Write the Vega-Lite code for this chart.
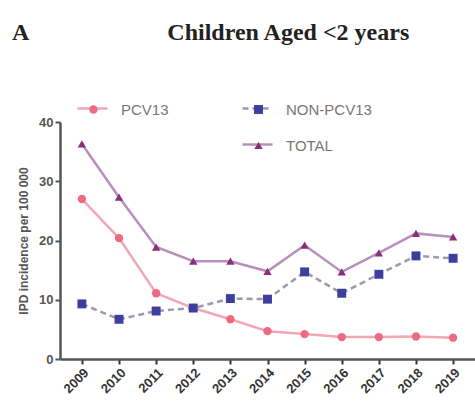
{
  "$schema": "https://vega.github.io/schema/vega-lite/v6.json",
  "width": 415,
  "height": 237,
  "autosize": "none",
  "padding": {"left": 60, "top": 122, "right": 0, "bottom": 44},
  "background": "white",
  "title": {
    "text": "A\u00a0\u00a0\u00a0\u00a0\u00a0\u00a0\u00a0\u00a0\u00a0\u00a0\u00a0\u00a0\u00a0\u00a0\u00a0\u00a0\u00a0\u00a0\u00a0\u00a0\u00a0\u00a0\u00a0Children Aged <2 years",
    "anchor": "start",
    "frame": "group",
    "dx": -48,
    "offset": 47,
    "font": "Liberation Serif",
    "fontSize": 24,
    "fontWeight": "bold",
    "color": "#222"
  },
  "data": {
    "values": [
      {"year": "2009", "series": "PCV13", "value": 27.0},
      {"year": "2010", "series": "PCV13", "value": 20.4},
      {"year": "2011", "series": "PCV13", "value": 11.1},
      {"year": "2012", "series": "PCV13", "value": 8.6},
      {"year": "2013", "series": "PCV13", "value": 6.7},
      {"year": "2014", "series": "PCV13", "value": 4.7},
      {"year": "2015", "series": "PCV13", "value": 4.2},
      {"year": "2016", "series": "PCV13", "value": 3.7},
      {"year": "2017", "series": "PCV13", "value": 3.7},
      {"year": "2018", "series": "PCV13", "value": 3.8},
      {"year": "2019", "series": "PCV13", "value": 3.6},
      {"year": "2009", "series": "NON-PCV13", "value": 9.3},
      {"year": "2010", "series": "NON-PCV13", "value": 6.7},
      {"year": "2011", "series": "NON-PCV13", "value": 8.1},
      {"year": "2012", "series": "NON-PCV13", "value": 8.6},
      {"year": "2013", "series": "NON-PCV13", "value": 10.2},
      {"year": "2014", "series": "NON-PCV13", "value": 10.1},
      {"year": "2015", "series": "NON-PCV13", "value": 14.7},
      {"year": "2016", "series": "NON-PCV13", "value": 11.1},
      {"year": "2017", "series": "NON-PCV13", "value": 14.3},
      {"year": "2018", "series": "NON-PCV13", "value": 17.4},
      {"year": "2019", "series": "NON-PCV13", "value": 17.0},
      {"year": "2009", "series": "TOTAL", "value": 36.3},
      {"year": "2010", "series": "TOTAL", "value": 27.3},
      {"year": "2011", "series": "TOTAL", "value": 18.9},
      {"year": "2012", "series": "TOTAL", "value": 16.5},
      {"year": "2013", "series": "TOTAL", "value": 16.5},
      {"year": "2014", "series": "TOTAL", "value": 14.8},
      {"year": "2015", "series": "TOTAL", "value": 19.2},
      {"year": "2016", "series": "TOTAL", "value": 14.7},
      {"year": "2017", "series": "TOTAL", "value": 17.9},
      {"year": "2018", "series": "TOTAL", "value": 21.2},
      {"year": "2019", "series": "TOTAL", "value": 20.6}
    ]
  },
  "encoding": {
    "x": {
      "field": "year",
      "type": "ordinal",
      "scale": {"type": "point", "padding": 0.59},
      "axis": {
        "title": null,
        "labelAngle": -45,
        "labelFont": "Liberation Sans",
        "labelFontSize": 13,
        "labelFontWeight": "bold",
        "labelColor": "#333",
        "tickColor": "#333",
        "tickSize": 5,
        "tickWidth": 2,
        "domainColor": "#555",
        "domainWidth": 2.5,
        "labelPadding": 2
      }
    },
    "y": {
      "field": "value",
      "type": "quantitative",
      "scale": {"domain": [0, 40], "nice": false},
      "axis": {
        "title": "IPD incidence per 100 000",
        "values": [0, 10, 20, 30, 40],
        "grid": false,
        "labelFont": "Liberation Sans",
        "labelFontSize": 13,
        "labelFontWeight": "bold",
        "labelColor": "#555",
        "tickColor": "#555",
        "tickSize": 5,
        "tickWidth": 2,
        "domainColor": "#555",
        "domainWidth": 2.5,
        "titleFont": "Liberation Sans",
        "titleFontSize": 12,
        "titleFontWeight": "bold",
        "titleColor": "#555",
        "titlePadding": 8
      }
    }
  },
  "layer": [
    {
      "data": {"values": [{"year": "2010"}, {"year": "2016"}]},
      "mark": {"type": "rule", "color": "#999", "strokeWidth": 1.5},
      "encoding": {
        "x": {"field": "year", "type": "ordinal"},
        "y": {"datum": 35},
        "y2": {"datum": 0}
      }
    },
    {
      "transform": [{"filter": "datum.series === 'PCV13'"}],
      "mark": {"type": "line", "strokeWidth": 2.5},
      "encoding": {
        "color": {
          "field": "series", "type": "nominal",
          "scale": {"range": ["#f2a8b4"]},
          "legend": {"orient": "none", "legendX": 16, "legendY": -30, "title": null, "symbolType": "stroke", "symbolSize": 900, "symbolStrokeWidth": 2.5, "labelExpr": "''", "labelFontSize": 15, "padding": 0}
        }
      }
    },
    {
      "transform": [{"filter": "datum.series === 'NON-PCV13'"}],
      "mark": {"type": "line", "strokeWidth": 2.5, "strokeDash": [6, 4]},
      "encoding": {
        "color": {
          "field": "series", "type": "nominal",
          "scale": {"range": ["#9a9ab0"]},
          "legend": {"orient": "none", "legendX": 181, "legendY": -30, "title": null, "symbolType": "stroke", "symbolSize": 900, "symbolStrokeWidth": 2.5, "symbolDash": [6, 4], "labelExpr": "''", "labelFontSize": 15, "padding": 0}
        }
      }
    },
    {
      "transform": [{"filter": "datum.series === 'TOTAL'"}],
      "mark": {"type": "line", "strokeWidth": 2.5},
      "encoding": {
        "color": {
          "field": "series", "type": "nominal",
          "scale": {"range": ["#b890bc"]},
          "legend": {"orient": "none", "legendX": 181, "legendY": 6, "title": null, "symbolType": "stroke", "symbolSize": 900, "symbolStrokeWidth": 2.5, "labelExpr": "''", "labelFontSize": 15, "padding": 0}
        }
      }
    },
    {
      "transform": [{"filter": "datum.series === 'PCV13'"}],
      "mark": {"type": "point", "filled": true, "shape": "circle", "size": 70, "opacity": 1},
      "encoding": {
        "shape": {
          "field": "series", "type": "nominal",
          "scale": {"range": ["circle"]},
          "legend": {"orient": "none", "legendX": 26, "legendY": -20, "title": null, "symbolSize": 70, "symbolFillColor": "#ee6a80", "symbolStrokeWidth": 0, "labelFont": "Liberation Sans", "labelFontSize": 15, "labelColor": "#777", "labelOffset": 20, "padding": 0}
        },
        "color": {"value": "#ee6a80"}
      }
    },
    {
      "transform": [{"filter": "datum.series === 'NON-PCV13'"}],
      "mark": {"type": "point", "filled": true, "shape": "square", "size": 80, "opacity": 1},
      "encoding": {
        "shape": {
          "field": "series", "type": "nominal",
          "scale": {"range": ["square"]},
          "legend": {"orient": "none", "legendX": 191, "legendY": -20, "title": null, "symbolSize": 80, "symbolFillColor": "#3e3e9e", "symbolStrokeWidth": 0, "labelFont": "Liberation Sans", "labelFontSize": 15, "labelColor": "#777", "labelOffset": 20, "padding": 0}
        },
        "color": {"value": "#3e3e9e"}
      }
    },
    {
      "transform": [{"filter": "datum.series === 'TOTAL'"}],
      "mark": {"type": "point", "filled": true, "shape": "triangle-up", "size": 70, "opacity": 1},
      "encoding": {
        "shape": {
          "field": "series", "type": "nominal",
          "scale": {"range": ["triangle-up"]},
          "legend": {"orient": "none", "legendX": 191, "legendY": 16, "title": null, "symbolSize": 70, "symbolFillColor": "#8a2f7e", "symbolStrokeWidth": 0, "labelFont": "Liberation Sans", "labelFontSize": 15, "labelColor": "#777", "labelOffset": 20, "padding": 0}
        },
        "color": {"value": "#8a2f7e"}
      }
    }
  ],
  "resolve": {"scale": {"color": "independent", "shape": "independent"}},
  "config": {"view": {"stroke": null}}
}
